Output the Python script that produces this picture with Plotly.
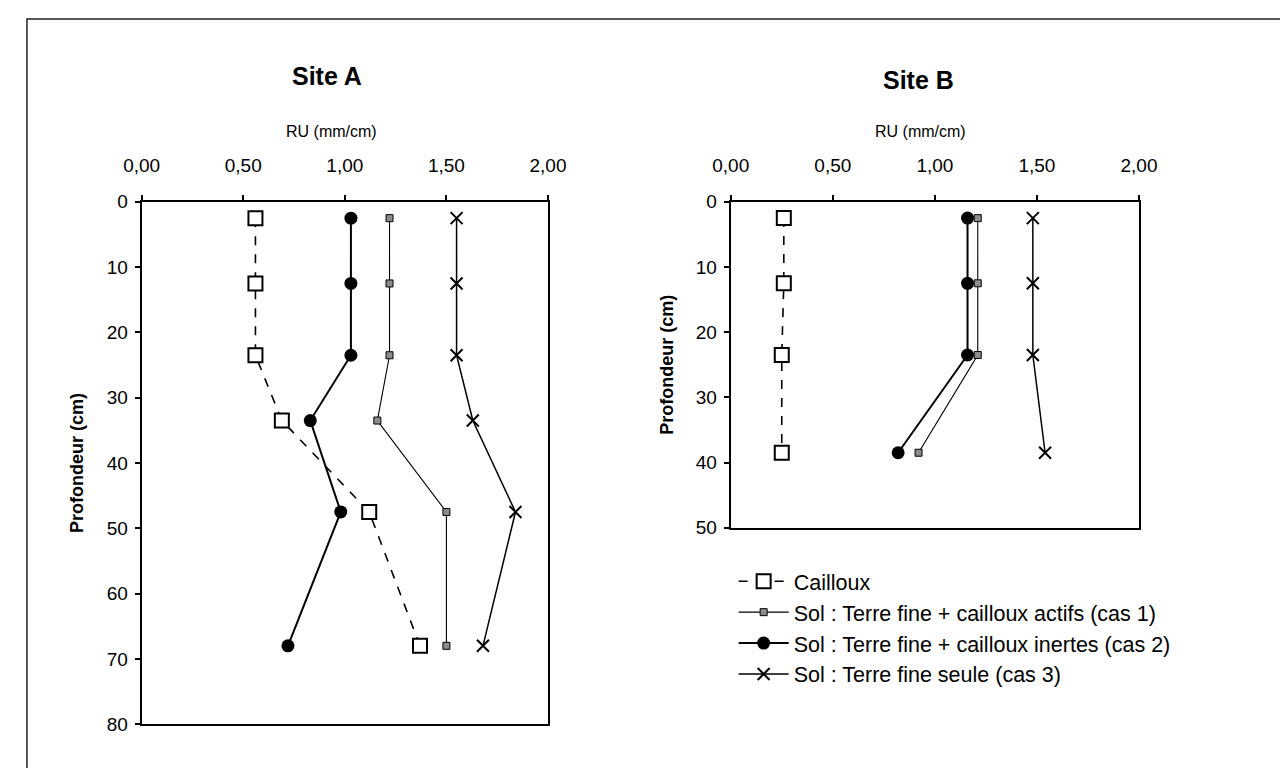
import plotly.graph_objects as go

# ---------------- data ----------------
depth_a = [2.5, 12.5, 23.5, 33.5, 47.5, 68]
cailloux_a = [0.56, 0.56, 0.56, 0.69, 1.12, 1.37]
actifs_a = [1.22, 1.22, 1.22, 1.16, 1.50, 1.50]
inertes_a = [1.03, 1.03, 1.03, 0.83, 0.98, 0.72]
seule_a = [1.55, 1.55, 1.55, 1.63, 1.84, 1.68]

depth_b = [2.5, 12.5, 23.5, 38.5]
cailloux_b = [0.26, 0.26, 0.25, 0.25]
actifs_b = [1.21, 1.21, 1.21, 0.92]
inertes_b = [1.16, 1.16, 1.16, 0.82]
seule_b = [1.48, 1.48, 1.48, 1.54]

series_names = [
    "Cailloux",
    "Sol : Terre fine + cailloux actifs (cas 1)",
    "Sol : Terre fine + cailloux inertes (cas 2)",
    "Sol : Terre fine seule (cas 3)",
]
x_ticks = [0, 0.5, 1.0, 1.5, 2.0]
site_titles = ["Site A", "Site B"]
x_title = "RU (mm/cm)"
y_title = "Profondeur (cm)"

W, H = 1288, 768
FONT = "Liberation Sans, Arial, sans-serif"

styles = [
    dict(mode="lines+markers",
         line=dict(color="black", width=1.6, dash="dash"),
         marker=dict(symbol="square", size=14, color="white",
                     line=dict(color="black", width=2))),
    dict(mode="lines+markers",
         line=dict(color="black", width=1.1),
         marker=dict(symbol="square", size=7, color="#8c8c8c",
                     line=dict(color="black", width=1))),
    dict(mode="lines+markers",
         line=dict(color="black", width=2),
         marker=dict(symbol="circle", size=13, color="black")),
    dict(mode="lines+markers",
         line=dict(color="black", width=1.5),
         marker=dict(symbol="x-thin", size=12,
                     line=dict(color="black", width=2))),
]

fig = go.Figure()

data_a = [cailloux_a, actifs_a, inertes_a, seule_a]
data_b = [cailloux_b, actifs_b, inertes_b, seule_b]

for name, vals, st in zip(series_names, data_a, styles):
    fig.add_trace(go.Scatter(x=vals, y=depth_a, name=name, xaxis="x", yaxis="y",
                             showlegend=True, **st))
for name, vals, st in zip(series_names, data_b, styles):
    fig.add_trace(go.Scatter(x=vals, y=depth_b, name=name, xaxis="x2", yaxis="y2",
                             showlegend=False, **st))


def fx(p):
    # figure pixel (from left) -> paper fraction
    return p / W


def fy(p):
    # figure pixel (from top) -> paper fraction
    return 1 - p / H


A = dict(l=119, r=537, t=189, b=726)
B = dict(l=725, r=1145, t=189, b=524)

axis_common = dict(showline=True, linecolor="black", linewidth=2, mirror=True,
                   ticks="outside", ticklen=5, tickcolor="black", tickwidth=1.5,
                   showgrid=False, zeroline=False,
                   tickfont=dict(family=FONT, size=19, color="black"))

xcommon = dict(axis_common, side="top", range=[0, 2], tickvals=x_ticks,
               tickformat=".2f", ticklabelstandoff=15)

fig.update_layout(
    width=W, height=H,
    margin=dict(l=0, r=0, t=0, b=0),
    paper_bgcolor="white", plot_bgcolor="white",
    separators=", ",
    font=dict(family=FONT, color="black"),
    xaxis=dict(xcommon, domain=[fx(A["l"]), fx(A["r"])], anchor="y"),
    yaxis=dict(axis_common, domain=[fy(A["b"]), fy(A["t"])], anchor="x",
               range=[80, 0], dtick=10, ticklabelstandoff=3),
    xaxis2=dict(xcommon, domain=[fx(B["l"]), fx(B["r"])], anchor="y2"),
    yaxis2=dict(axis_common, domain=[fy(B["b"]), fy(B["t"])], anchor="x2",
                range=[50, 0], dtick=10, ticklabelstandoff=3),
    legend=dict(x=fx(728), y=fy(558), xanchor="left", yanchor="top",
                font=dict(family=FONT, size=21.5, color="black"),
                bgcolor="rgba(0,0,0,0)", tracegroupgap=0, itemwidth=50),
    showlegend=True,
)

ann_font = lambda s: dict(family=FONT, size=s, color="black")
annotations = [
    dict(text="<b>" + site_titles[0] + "</b>", x=fx(310), y=fy(60), font=ann_font(25)),
    dict(text="<b>" + site_titles[1] + "</b>", x=fx(918), y=fy(64), font=ann_font(25)),
    dict(text=x_title, x=fx(314), y=fy(117), font=ann_font(16)),
    dict(text=x_title, x=fx(920), y=fy(117), font=ann_font(16)),
    dict(text="<b>" + y_title + "</b>", x=fx(53), y=fy(458), textangle=-90,
         font=ann_font(18)),
    dict(text="<b>" + y_title + "</b>", x=fx(660), y=fy(357), textangle=-90,
         font=ann_font(18)),
]
for a in annotations:
    a.update(xref="paper", yref="paper", showarrow=False,
             xanchor="center", yanchor="middle")
fig.update_layout(annotations=annotations)

# outer frame
fig.add_shape(type="rect", xref="paper", yref="paper",
              x0=fx(1), x1=fx(1300), y0=fy(790), y1=fy(1),
              line=dict(color="#222", width=1.5), fillcolor="rgba(0,0,0,0)")

fig.write_html("out.html")
